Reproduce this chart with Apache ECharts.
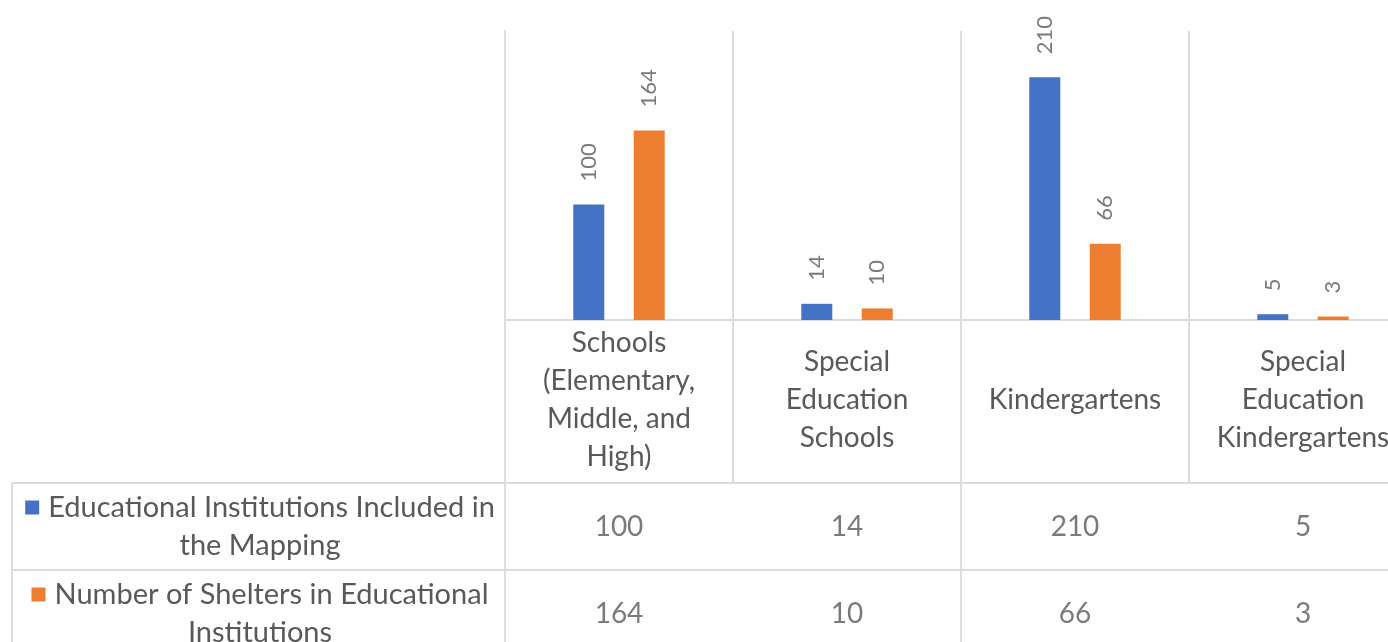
<!DOCTYPE html>
<html>
<head>
<meta charset="utf-8">
<script src="https://cdn.jsdelivr.net/npm/echarts@6/dist/echarts.min.js"></script>
<style>
  html, body { margin: 0; padding: 0; background: #ffffff; }
  #chart { width: 1388px; height: 642px; }
</style>
</head>
<body>
<div id="chart"></div>
<script>
// Categories and series values
const categories = [
  'Schools (Elementary, Middle, and High)',
  'Special Education Schools',
  'Kindergartens',
  'Special Education Kindergartens'
];
const seriesNames = [
  'Educational Institutions Included in the Mapping',
  'Number of Shelters in Educational Institutions'
];
const includedInMapping = [100, 14, 210, 5];
const sheltersInInstitutions = [164, 10, 66, 3];
const seriesValues = [includedInMapping, sheltersInInstitutions];

const colors = ['#4472C4', '#ED7D31'];
const FONT = 'Lato, "Open Sans", sans-serif';
const TEXT = '#595959';
const LINE = '#dcdcdc';

// Greedy word wrap measured on a canvas so line breaks follow the real font
const ctx = document.createElement('canvas').getContext('2d');
function wrap(text, size, maxWidth) {
  ctx.font = size + 'px ' + FONT;
  const words = text.split(' ');
  const lines = [];
  let cur = '';
  words.forEach(w => {
    const test = cur ? cur + ' ' + w : w;
    if (cur && ctx.measureText(test).width > maxWidth) {
      lines.push(cur);
      cur = w;
    } else {
      cur = test;
    }
  });
  if (cur) lines.push(cur);
  return lines;
}

const chart = echarts.init(document.getElementById('chart'), null, { renderer: 'canvas' });

// Cells of the data table: [category index, row index, value]
const tableCells = [];
seriesValues.forEach((vals, r) => vals.forEach((v, c) => tableCells.push([c, r, v])));

const lineStyle = { color: LINE, width: 2 };

chart.setOption({
  animation: false,
  textStyle: { fontFamily: FONT },
  grid: [
    // plot area plus the category label row (last column runs past the right edge)
    { left: 505, width: 912, top: 31, height: 452, outerBoundsMode: 'none', containLabel: false },
    // value rows of the data table
    { left: 505, width: 912, top: 483, height: 174, outerBoundsMode: 'none', containLabel: false },
    // series-name column of the data table
    { left: 12, width: 493, top: 483, height: 174, outerBoundsMode: 'none', containLabel: false }
  ],
  xAxis: [
    {
      gridIndex: 0,
      type: 'category',
      data: categories,
      axisLine: { show: true, onZero: true, lineStyle: lineStyle },
      axisTick: { show: false },
      splitLine: { show: true, lineStyle: lineStyle },
      axisLabel: {
        interval: 0,
        margin: -83,
        verticalAlign: 'middle',
        fontSize: 28,
        lineHeight: 38,
        color: TEXT,
        fontFamily: FONT,
        formatter: v => wrap(v, 28, 195).join('\n')
      }
    },
    {
      gridIndex: 1,
      type: 'category',
      data: categories,
      axisLine: { show: false },
      axisTick: { show: false },
      axisLabel: { show: false },
      splitLine: { show: true, lineStyle: lineStyle }
    },
    {
      gridIndex: 2,
      type: 'category',
      data: [''],
      axisLine: { show: false },
      axisTick: { show: false },
      axisLabel: { show: false },
      splitLine: { show: true, lineStyle: lineStyle }
    }
  ],
  yAxis: [
    {
      gridIndex: 0,
      type: 'value',
      min: -141,
      max: 250,
      axisLine: { show: true, lineStyle: lineStyle },
      axisTick: { show: false },
      axisLabel: { show: false },
      splitLine: { show: false }
    },
    {
      gridIndex: 1,
      type: 'category',
      inverse: true,
      data: seriesNames,
      axisLine: { show: false },
      axisTick: { show: false },
      axisLabel: { show: false },
      splitLine: { show: true, lineStyle: lineStyle }
    },
    {
      gridIndex: 2,
      type: 'category',
      inverse: true,
      data: seriesNames,
      axisLine: { show: false },
      axisTick: { show: false },
      splitLine: { show: true, lineStyle: lineStyle },
      axisLabel: {
        inside: true,
        margin: 248,
        align: 'center',
        verticalAlign: 'middle',
        fontSize: 29,
        lineHeight: 38,
        color: TEXT,
        fontFamily: FONT,
        formatter: (name, idx) => {
          const lines = wrap(name, 29, 470);
          return '{sq' + idx + '|}{gap|}' + lines.join('\n');
        },
        rich: {
          sq0: { width: 14, height: 14, backgroundColor: colors[0] },
          sq1: { width: 14, height: 14, backgroundColor: colors[1] },
          gap: { width: 9 }
        }
      }
    }
  ],
  series: [
    ...seriesValues.map((vals, i) => ({
      name: seriesNames[i],
      type: 'bar',
      xAxisIndex: 0,
      yAxisIndex: 0,
      data: vals,
      barWidth: 31,
      barGap: '95%',
      itemStyle: { color: colors[i] },
      label: {
        show: true,
        position: 'top',
        rotate: 90,
        align: 'left',
        verticalAlign: 'middle',
        distance: 23,
        fontSize: 22,
        color: '#7a7a7a',
        fontFamily: FONT
      }
    })),
    {
      name: 'table',
      type: 'scatter',
      xAxisIndex: 1,
      yAxisIndex: 1,
      data: tableCells,
      symbolSize: 1,
      itemStyle: { color: 'transparent' },
      silent: true,
      label: {
        show: true,
        position: 'inside',
        fontSize: 28,
        color: TEXT,
        fontFamily: FONT,
        formatter: p => String(p.value[2])
      }
    }
  ]
});
</script>
</body>
</html>
